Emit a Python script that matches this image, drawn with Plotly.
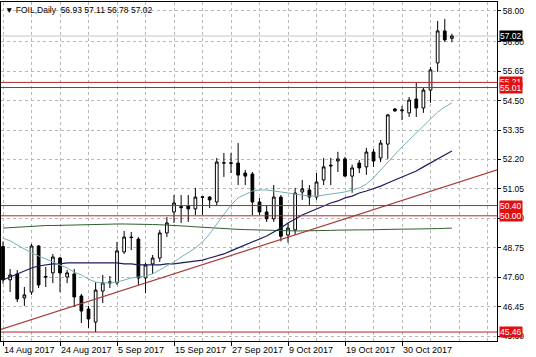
import plotly.graph_objects as go

# ---------------- data ----------------
bar_index = list(range(64))
opens = [48.80, 47.50, 47.73, 46.79, 47.02, 48.82, 47.60, 47.77, 48.35, 47.61,
         47.73, 46.87, 46.36, 45.85, 47.06, 47.42, 47.38, 48.59, 49.17, 49.09,
         47.57, 48.12, 48.35, 49.33, 50.15, 50.36, 50.38, 50.27, 50.72, 50.73,
         50.54, 52.06, 52.07, 52.06, 51.67, 51.63, 50.54, 50.15, 49.88, 50.73,
         49.25, 49.45, 50.93, 51.01, 50.73, 51.40, 51.98, 52.14, 52.22, 51.55,
         52.06, 51.91, 52.49, 52.26, 52.80, 54.17, 54.10, 54.02, 54.56, 54.21,
         54.91, 55.97, 57.22, 56.93]
highs = [49.00, 47.92, 47.88, 47.22, 48.90, 48.86, 48.00, 48.51, 48.39, 47.88,
         47.92, 46.95, 46.48, 47.41, 47.69, 47.65, 48.98, 49.41, 49.37, 49.17,
         48.16, 48.47, 49.45, 49.95, 50.81, 50.81, 50.81, 51.09, 50.77, 50.77,
         52.26, 52.45, 52.45, 52.84, 51.79, 51.71, 50.70, 50.42, 51.20, 50.81,
         49.72, 51.09, 51.40, 51.20, 51.67, 52.26, 52.26, 52.50, 52.30, 52.00,
         52.18, 52.65, 52.61, 52.96, 53.98, 54.21, 54.29, 54.64, 55.21, 54.99,
         55.81, 57.61, 57.69, 57.11]
lows = [47.35, 47.02, 46.63, 46.48, 46.91, 47.18, 47.22, 47.37, 47.02, 47.37,
        46.44, 45.81, 45.62, 45.46, 46.59, 47.18, 47.30, 48.51, 48.66, 47.30,
        46.98, 47.73, 48.20, 49.17, 49.72, 49.72, 49.76, 50.03, 50.03, 50.30,
        50.38, 51.52, 51.67, 51.20, 51.20, 50.03, 50.03, 49.76, 49.76, 49.00,
        48.95, 49.25, 50.62, 50.42, 50.62, 51.20, 51.20, 51.71, 51.52, 50.90,
        51.67, 51.60, 51.91, 52.10, 52.22, 54.05, 53.74, 53.86, 53.86, 54.02,
        54.41, 55.62, 56.79, 56.78]
closes = [47.50, 47.69, 46.75, 46.91, 48.82, 47.30, 47.63, 48.39, 47.77, 47.77,
          46.83, 46.28, 45.97, 47.10, 47.38, 47.38, 48.63, 49.17, 49.15, 47.57,
          48.08, 48.35, 49.33, 49.72, 50.50, 50.32, 50.27, 50.73, 50.74, 50.62,
          52.10, 52.07, 52.05, 51.59, 51.55, 50.54, 50.15, 49.88, 50.73, 49.20,
          49.52, 50.89, 51.05, 50.73, 51.32, 51.91, 51.95, 52.22, 51.55, 51.87,
          51.87, 52.49, 52.14, 52.84, 53.94, 54.10, 54.13, 54.52, 54.21, 54.91,
          55.70, 57.22, 56.87, 57.02]

ma_fast = [49.13, 49.02, 48.86, 48.70, 48.55, 48.43, 48.31, 48.20, 48.08, 47.96,
           47.80, 47.69, 47.53, 47.41, 47.38, 47.38, 47.41, 47.49, 47.57, 47.61,
           47.65, 47.73, 47.88, 48.04, 48.20, 48.39, 48.55, 48.74, 48.98, 49.29,
           49.68, 50.07, 50.42, 50.70, 50.85, 50.97, 51.01, 51.01, 50.97, 50.93,
           50.89, 50.85, 50.81, 50.77, 50.77, 50.81, 50.85, 50.89, 50.93, 51.01,
           51.09, 51.24, 51.48, 51.79, 52.10, 52.38, 52.69, 52.96, 53.23, 53.51,
           53.78, 54.05, 54.25, 54.41]
ma_mid = [47.49, 47.61, 47.73, 47.84, 47.96, 48.04, 48.08, 48.12, 48.12, 48.16,
          48.16, 48.16, 48.16, 48.16, 48.16, 48.16, 48.16, 48.12, 48.12, 48.08,
          48.08, 48.08, 48.08, 48.12, 48.12, 48.16, 48.20, 48.23, 48.27, 48.35,
          48.43, 48.51, 48.63, 48.74, 48.86, 48.98, 49.09, 49.21, 49.37, 49.52,
          49.72, 49.88, 50.03, 50.15, 50.27, 50.38, 50.50, 50.58, 50.70, 50.77,
          50.89, 50.97, 51.05, 51.16, 51.28, 51.40, 51.52, 51.63, 51.75, 51.91,
          52.06, 52.22, 52.38, 52.53]
ma_slow = [49.52, 49.54, 49.56, 49.58, 49.60, 49.60, 49.62, 49.62, 49.63, 49.64,
           49.64, 49.65, 49.66, 49.67, 49.68, 49.68, 49.68, 49.68, 49.68, 49.68,
           49.67, 49.66, 49.65, 49.64, 49.63, 49.61, 49.59, 49.57, 49.55, 49.53,
           49.51, 49.49, 49.48, 49.47, 49.46, 49.45, 49.44, 49.43, 49.42, 49.41,
           49.41, 49.41, 49.41, 49.41, 49.41, 49.42, 49.43, 49.44, 49.45, 49.45,
           49.45, 49.45, 49.46, 49.46, 49.47, 49.47, 49.48, 49.48, 49.48, 49.49,
           49.50, 49.50, 49.51, 49.52]

trend_x = [-0.5, 70.0]
trend_y = [45.54, 51.85]

level_prices = [55.21, 55.01, 50.40, 50.00, 45.46]
bid_price = 57.02

x_tick_pos = [0, 8, 16, 24, 32, 40, 48, 56]
x_tick_text = ["14 Aug 2017", "24 Aug 2017", "5 Sep 2017", "15 Sep 2017",
               "27 Sep 2017", "9 Oct 2017", "19 Oct 2017", "30 Oct 2017"]
x_grid_minor = [4, 12, 20, 28, 36, 44, 52, 60, 64, 68]
y_tick_vals = [45.30, 46.45, 47.60, 48.75, 49.90, 51.05, 52.20, 53.35,
               54.50, 55.65, 56.80, 58.00]
title_text = "▼ FOIL,Daily  56.93 57.11 56.78 57.02"

# ---------------- styling ----------------
FONT = "Liberation Sans, Arial, sans-serif"
FS = 8.5
GRID = "#b8b8b8"
LEVEL = "#b02828"
LABEL_BG = "#e01010"

fig = go.Figure()

fig.add_trace(go.Scatter(x=bar_index, y=ma_slow, mode="lines",
                         line=dict(color="#2f5f2f", width=1), hoverinfo="skip"))
fig.add_trace(go.Scatter(x=bar_index, y=ma_mid, mode="lines",
                         line=dict(color="#1c1c5c", width=1.2), hoverinfo="skip"))
fig.add_trace(go.Scatter(x=bar_index, y=ma_fast, mode="lines",
                         line=dict(color="#78b0b8", width=1), hoverinfo="skip"))
fig.add_trace(go.Scatter(x=trend_x, y=trend_y, mode="lines",
                         line=dict(color="#a83a36", width=1.2), hoverinfo="skip"))

fig.add_trace(go.Candlestick(
    x=bar_index, open=opens, high=highs, low=lows, close=closes,
    increasing=dict(line=dict(color="black", width=1), fillcolor="white"),
    decreasing=dict(line=dict(color="black", width=1), fillcolor="black"),
    whiskerwidth=0, hoverinfo="skip"))

shapes = []
for p in level_prices:
    shapes.append(dict(type="line", xref="paper", x0=0, x1=1, yref="y", y0=p, y1=p,
                       line=dict(color=LEVEL, width=1), layer="above"))
shapes.append(dict(type="line", xref="paper", x0=0, x1=1, yref="y",
                   y0=bid_price, y1=bid_price,
                   line=dict(color="#c4c4c4", width=1), layer="below"))

annotations = [dict(xref="paper", yref="paper", x=0.004, y=0.997, xanchor="left",
                    yanchor="top", text=title_text, showarrow=False,
                    font=dict(family=FONT, size=FS, color="black"))]
label_order = [55.21, 50.40, 50.00, 45.46, 55.01]
for p in label_order:
    annotations.append(dict(xref="paper", x=1, xanchor="left", xshift=2,
                            yref="y", y=p, yanchor="middle",
                            text=f"{p:.2f}", showarrow=False, bgcolor=LABEL_BG,
                            borderpad=0,
                            font=dict(family=FONT, size=FS, color="white")))
annotations.append(dict(xref="paper", x=1, xanchor="left", xshift=2,
                        yref="y", y=bid_price, yanchor="middle",
                        text=f"{bid_price:.2f}", showarrow=False, bgcolor="black",
                        borderpad=0,
                        font=dict(family=FONT, size=FS, color="white")))

fig.update_layout(
    width=536, height=357,
    margin=dict(l=1, r=39, t=2, b=16, autoexpand=False),
    paper_bgcolor="white", plot_bgcolor="white",
    showlegend=False, boxgap=0.45, hovermode=False,
    shapes=shapes, annotations=annotations,
    font=dict(family=FONT, size=FS, color="black"),
)
fig.update_xaxes(
    range=[-0.28, 69.33], rangeslider=dict(visible=False), automargin=False,
    tickmode="array", tickvals=x_tick_pos, ticktext=x_tick_text, tickangle=0,
    ticks="outside", ticklen=4, tickcolor="black",
    ticklabelposition="outside right",
    showgrid=True, gridcolor=GRID, griddash="3px,3px", gridwidth=1,
    minor=dict(tickmode="array", tickvals=x_grid_minor, showgrid=True,
               gridcolor=GRID, griddash="3px,3px", gridwidth=1, ticks=""),
    showline=True, linecolor="black", linewidth=1, mirror=True,
    zeroline=False, tickfont=dict(family=FONT, size=9, color="black"),
)
fig.update_yaxes(
    range=[45.11, 58.35], side="right", automargin=False,
    tickmode="array", tickvals=y_tick_vals,
    ticktext=[f"{v:.2f}" for v in y_tick_vals],
    ticks="outside", ticklen=3, tickcolor="black",
    showgrid=True, gridcolor=GRID, griddash="3px,3px", gridwidth=1,
    showline=True, linecolor="black", linewidth=1, mirror=True,
    zeroline=False, tickfont=dict(family=FONT, size=FS, color="black"),
)

fig.write_html("out.html",
               config={"displayModeBar": False},
               post_script="document.body.style.margin='0';"
                           "document.body.style.overflow='hidden';")
